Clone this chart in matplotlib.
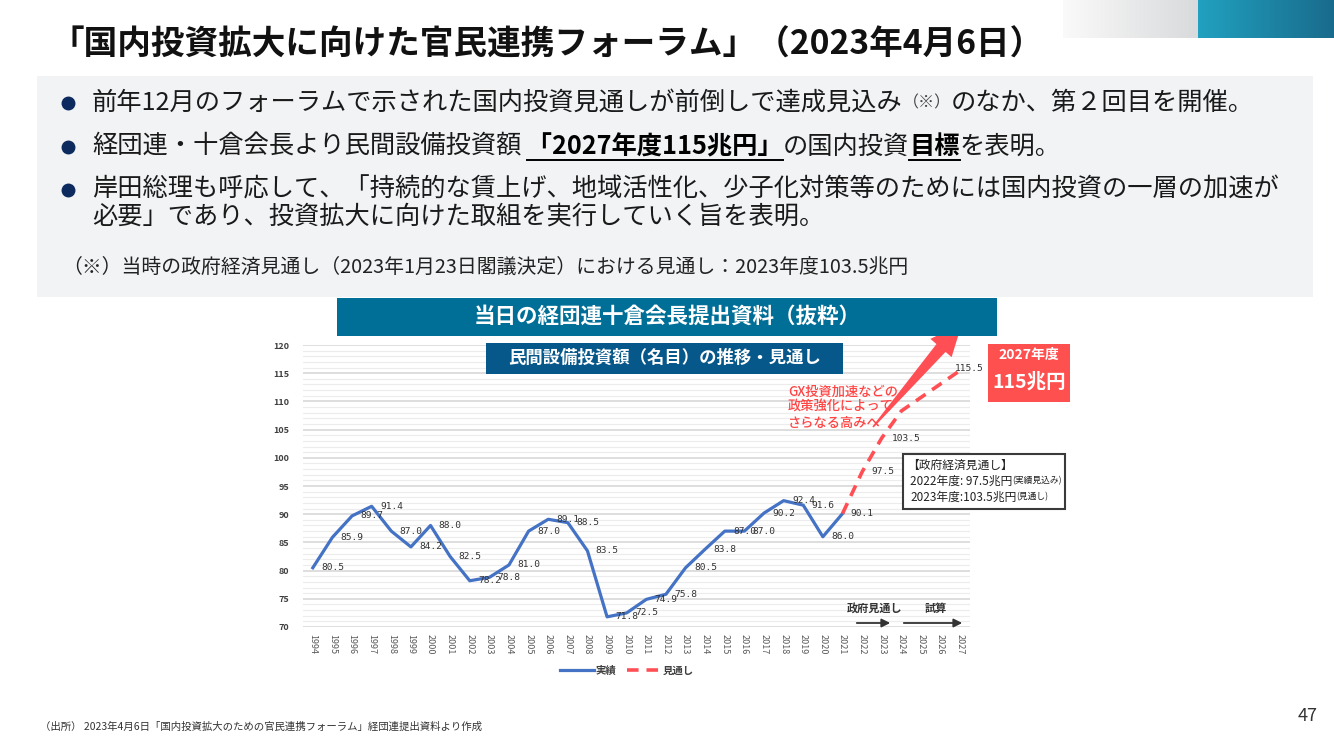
import matplotlib
matplotlib.use("Agg")
import matplotlib.pyplot as plt
from matplotlib.lines import Line2D
from matplotlib.patches import Rectangle, Polygon, FancyArrowPatch
import numpy as np

plt.rcParams['font.family'] = ['Noto Sans CJK JP', 'DejaVu Sans']

# ---------------- data ----------------
actual_years = list(range(1994, 2022))
actual_values = [80.5, 85.9, 89.7, 91.4, 87.0, 84.2, 88.0, 82.5, 78.2, 78.8,
                 81.0, 87.0, 89.1, 88.5, 83.5, 71.8, 72.5, 74.9, 75.8, 80.5,
                 83.8, 87.0, 87.0, 90.2, 92.4, 91.6, 86.0, 90.1]
forecast_years = list(range(2021, 2028))
forecast_values = [90.1, 97.5, 103.5, 108.3, 110.7, 113.1, 115.5]
forecast_labeled_years = [2022, 2023, 2027]
x_tick_years = list(range(1994, 2028))
y_ticks = [70, 75, 80, 85, 90, 95, 100, 105, 110, 115, 120]
legend_labels = ["実績", "見通し"]

title = "「国内投資拡大に向けた官民連携フォーラム」（2023年4月6日）"
bullet1 = ["前年12月のフォーラムで示された国内投資見通しが前倒しで達成見込み", "（※）", "のなか、第２回目を開催。"]
bullet2 = ["経団連・十倉会長より民間設備投資額", " 「2027年度115兆円」", "の国内投資", "目標", "を表明。"]
bullet3 = ["岸田総理も呼応して、「持続的な賃上げ、地域活性化、少子化対策等のためには国内投資の一層の加速が",
           "必要」であり、投資拡大に向けた取組を実行していく旨を表明。"]
note = "（※）当時の政府経済見通し（2023年1月23日閣議決定）における見通し：2023年度103.5兆円"
banner = "当日の経団連十倉会長提出資料（抜粋）"
subbanner = "民間設備投資額（名目）の推移・見通し"
gx_text = "GX投資加速などの\n政策強化によって\nさらなる高みへ"
gov_title = "【政府経済見通し】"
gov_lines = [("2022年度: 97.5兆円", "(実績見込み)"), ("2023年度:103.5兆円", "(見通し)")]
footer = "（出所） 2023年4月6日「国内投資拡大のための官民連携フォーラム」経団連提出資料より作成"

W, H = 1334, 750
fig = plt.figure(figsize=(W / 100, H / 100), dpi=100)
fig.patch.set_facecolor("white")


def P(x, y):
    return x / W, 1 - y / H


def ftext(x, y, s, **kw):
    fx, fy = P(x, y)
    return fig.text(fx, fy, s, **kw)


def frect(x0, y0, x1, y1, **kw):
    fx, fy = P(x0, y1)
    r = Rectangle((fx, fy), (x1 - x0) / W, (y1 - y0) / H, transform=fig.transFigure, **kw)
    fig.add_artist(r)
    return r


renderer = fig.canvas.get_renderer()


def seq_text(x, y, segs):
    spans = []
    for s, kw in segs:
        t = ftext(x, y, s, va="center", ha="left", **kw)
        bb = t.get_window_extent(renderer)
        spans.append((x, x + bb.width))
        x += bb.width
    return spans


# ---------------- top-right decoration ----------------
grad_ax = fig.add_axes([1063 / W, 1 - 38 / H, (1334 - 1063) / W, 38 / H])
grad_ax.axis("off")
g = np.zeros((2, 271, 3))
left_c = np.array([0.98, 0.98, 0.98]); right_c = np.array([0.85, 0.855, 0.86])
tl = np.array([0.13, 0.63, 0.75]); tr = np.array([0.10, 0.42, 0.55])
for i in range(271):
    if i < 135:
        c = left_c + (right_c - left_c) * i / 134
    else:
        c = tl + (tr - tl) * (i - 135) / 135
    g[:, i, :] = c
grad_ax.imshow(g, aspect="auto", extent=[0, 1, 0, 1])

# ---------------- title ----------------
ftext(50, 45, title, fontsize=24.2, fontweight="bold", color="#111111", va="center", ha="left")

# ---------------- gray panel ----------------
frect(37, 76, 1313, 297, facecolor="#f1f3f5", edgecolor="none", zorder=0)

navy = "#0c2a5e"
for by in [103, 147, 190]:
    fx, fy = P(68, by)
    fig.add_artist(Line2D([fx], [fy], marker="o", ms=9, color=navy, transform=fig.transFigure))

fs = 18.2
tc = "#1a1a1a"
seq_text(92, 103, [(bullet1[0], dict(fontsize=fs, color=tc)),
                   (bullet1[1], dict(fontsize=11.5, color="#444444")),
                   (bullet1[2], dict(fontsize=fs, color=tc))])
spans = seq_text(92, 147, [(bullet2[0], dict(fontsize=fs, color=tc)),
                           (bullet2[1], dict(fontsize=fs, color="#000000", fontweight="bold")),
                           (bullet2[2], dict(fontsize=fs, color=tc)),
                           (bullet2[3], dict(fontsize=fs, color="#000000", fontweight="bold")),
                           (bullet2[4], dict(fontsize=fs, color=tc))])
for k in (1, 3):
    x0, x1 = spans[k]
    if k == 1:
        x0 += 6
    a, b = P(x0, 160)
    c, d = P(x1, 160)
    fig.add_artist(Line2D([a, c], [b, d], color="#000000", lw=1.4, transform=fig.transFigure))
ftext(92, 190, bullet3[0], fontsize=fs, color=tc, va="center", ha="left")
ftext(92, 217, bullet3[1], fontsize=fs, color=tc, va="center", ha="left")
ftext(62, 267, note, fontsize=14.3, color="#222222", va="center", ha="left")

# ---------------- chart ----------------
ax = fig.add_axes([303 / W, (750 - 627) / H, 667 / W, 282 / H])
ax.set_xlim(1993.5, 2027.5)
ax.set_ylim(70, 120)
for s in ax.spines.values():
    s.set_visible(False)
ax.set_yticks(y_ticks)
ax.set_yticks(np.arange(70, 121, 1), minor=True)
ax.grid(axis="y", which="major", color="#d4d4d4", lw=1.1)
ax.grid(axis="y", which="minor", color="#ececec", lw=0.8)
ax.set_axisbelow(True)
ax.tick_params(axis="both", which="both", length=0)
ax.tick_params(axis="y", pad=10, labelsize=6.5, labelcolor="#404040")
ax.set_xticks(x_tick_years)
ax.set_xticklabels([str(y) for y in x_tick_years], rotation=-90, fontsize=6.5, color="#595959")
ax.tick_params(axis="x", pad=5)
for lab in ax.get_yticklabels():
    lab.set_fontweight("bold")

blue = "#4472c4"
red = "#ff4f55"
l1, = ax.plot(actual_years, actual_values, color=blue, lw=2.3, solid_joinstyle="round", zorder=3)
l2, = ax.plot(forecast_years, forecast_values, color=red, lw=2.6, ls=(0, (3.2, 2.2)), zorder=3)

lab_kw = dict(fontsize=6.8, family="DejaVu Sans Mono", color="#333333", va="center", ha="left",
              textcoords="offset points", zorder=4)
for yr, v in zip(actual_years, actual_values):
    off = (6, 0)
    ax.annotate(f"{v:.1f}", (yr, v), xytext=off, **lab_kw)
for yr, v in zip(forecast_years, forecast_values):
    if yr in forecast_labeled_years:
        off = (-4, 1) if yr == 2027 else (7, 0)
        ax.annotate(f"{v:.1f}", (yr, v), xytext=off, **lab_kw)

leg = ax.legend([l1, l2], legend_labels, loc="center", bbox_to_anchor=P(627, 671),
                bbox_transform=fig.transFigure, ncol=2, frameon=False, fontsize=7.5,
                handlelength=3.2, columnspacing=1.0, handletextpad=0.2)
for t in leg.get_texts():
    t.set_color("#404040")
    t.set_fontweight("bold")

# ---------------- big red arrow ----------------
S = np.array([873.0, 427.0]); B = np.array([941.0, 348.0])
u = (B - S) / np.linalg.norm(B - S)
n = np.array([-u[1], u[0]])
tip = B + 32 * u
pts_px = [S - n * 0.8, B - n * 6, B - n * 14, tip, B + n * 14, B + n * 6, S + n * 0.8]
pts = [P(p[0], p[1]) for p in pts_px]
fig.add_artist(Polygon(pts, closed=True, facecolor=red, edgecolor="none",
                       transform=fig.transFigure, zorder=2))

# ---------------- banners ----------------
frect(337, 298, 997, 336, facecolor="#006f98", edgecolor="none", zorder=3)
ftext(667, 316, banner, fontsize=15.5, fontweight="bold", color="white", va="center", ha="center", zorder=4)
frect(486, 343, 843, 374, facecolor="#06578a", edgecolor="none", zorder=3)
ftext(665, 358, subbanner, fontsize=12.5, fontweight="bold", color="white", va="center", ha="center", zorder=4)

# red box
frect(988, 344, 1070, 402, facecolor="#ff5050", edgecolor="none", zorder=3)
ftext(1029, 355, "2027年度", fontsize=10, fontweight="bold", color="white", va="center", ha="center", zorder=4)
ftext(1029, 382, "115兆円", fontsize=14, fontweight="bold", color="white", va="center", ha="center", zorder=4)

# GX text
ftext(788, 407, gx_text, fontsize=9.5, color="#ff4444", fontweight="medium", va="center", ha="left",
      linespacing=1.15, zorder=4)

# government box
frect(903, 454, 1065, 509, facecolor="white", edgecolor="#3a3a3a", lw=1.5, zorder=3)
ftext(907, 465, gov_title, fontsize=8.5, color="#222222", va="center", ha="left", zorder=4)
for i, (main, small) in enumerate(gov_lines):
    yy = 481 + 16 * i
    segs = [(main, dict(fontsize=8.5, color="#222222", zorder=4)),
            (small, dict(fontsize=6.3, color="#222222", zorder=4))]
    seq_text(910, yy, segs)

# 政府見通し / 試算
ftext(875, 608, "政府見通し", fontsize=8, fontweight="bold", color="#333333", va="center", ha="center", zorder=4)
ftext(936, 608, "試算", fontsize=8, fontweight="bold", color="#333333", va="center", ha="center", zorder=4)
for x0, x1 in [(854, 893), (901, 965)]:
    fig.add_artist(FancyArrowPatch(P(x0, 623), P(x1, 623), transform=fig.transFigure,
                                   arrowstyle="-|>,head_length=5,head_width=2.5",
                                   color="#333333", lw=1.3, zorder=4))

# footer
ftext(40, 727, footer, fontsize=7.5, color="#333333", va="center", ha="left")
ftext(1318, 716, "47", fontsize=13, color="#333333", va="center", ha="right")

fig.savefig("out.png", dpi=100)
